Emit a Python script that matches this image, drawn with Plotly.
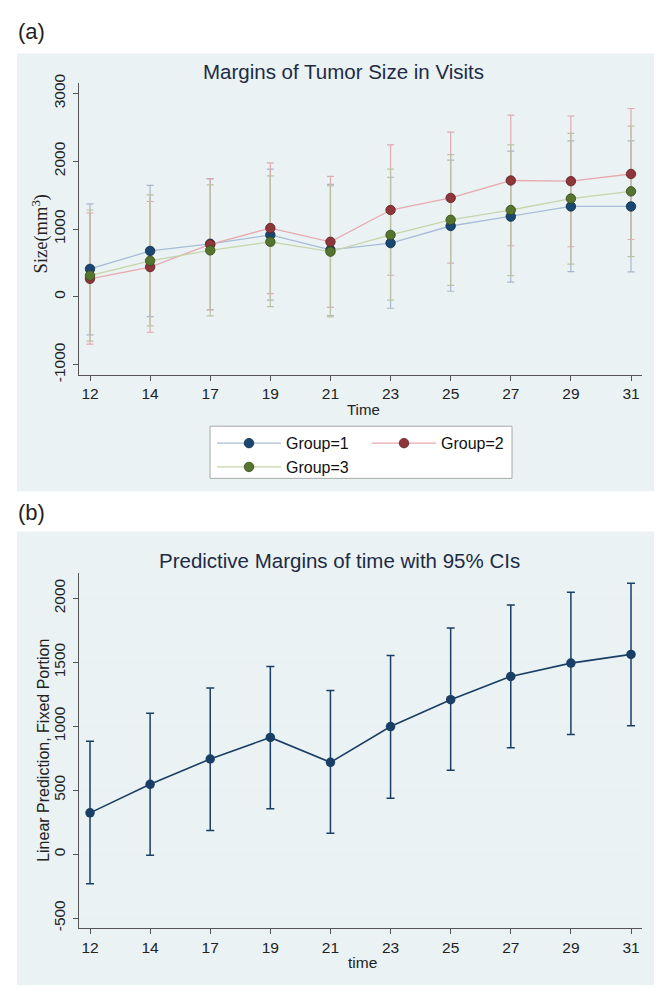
import plotly.graph_objects as go

# ---------------- data ----------------
times = ["12", "14", "17", "19", "21", "23", "25", "27", "29", "31"]

g1_mean = [412, 677, 783, 913, 692, 793, 1045, 1184, 1333, 1333]
g1_upper = [1372, 1643, 1745, 1884, 1658, 1764, 2015, 2150, 2300, 2300]
g1_lower = [-560, -290, -190, -48, -275, -168, 83, 217, 372, 368]

g2_mean = [266, 440, 774, 1014, 812, 1281, 1459, 1716, 1706, 1812]
g2_upper = [1237, 1406, 1740, 1977, 1778, 2242, 2430, 2681, 2667, 2778]
g2_lower = [-696, -522, -193, 49, -154, 319, 498, 754, 739, 846]

g3_mean = [314, 532, 686, 812, 667, 913, 1136, 1281, 1449, 1556]
g3_upper = [1281, 1503, 1652, 1783, 1638, 1884, 2097, 2242, 2411, 2517]
g3_lower = [-652, -429, -280, -145, -294, -48, 170, 314, 484, 594]

pm_mean = [323, 546, 744, 913, 718, 998, 1208, 1390, 1494, 1562]
pm_upper = [882, 1102, 1300, 1467, 1279, 1554, 1769, 1948, 2048, 2118]
pm_lower = [-231, -8, 185, 356, 164, 438, 656, 833, 936, 1005]

ya_ticks = [-1000, 0, 1000, 2000, 3000]
ya_text = ["-1000", "0", "1000", "2000", "3000"]
yb_ticks = [-500, 0, 500, 1000, 1500, 2000]
yb_text = ["-500", "0", "500", "1000", "1500", "2000"]

group_names = ["Group=1", "Group=2", "Group=3"]

# ---------------- style ----------------
OFF = 8  # page body margin
W, H = 662 - OFF, 992 - OFF
def px(x):
    return (x - OFF) / W
def py(y):
    return 1 - (y - OFF) / H

FONT = "Liberation Sans, Arial, sans-serif"
BG = "#eaf2f3"
AXC = "#555555"
TITLE_C = "#1e2b45"

marker_cols = ["#1a476f", "#90353b", "#55752f"]
marker_line = ["#0f2c47", "#5e2024", "#35491c"]
line_cols = ["#a8bcd9", "#e6aab0", "#c6d5aa"]
err_cols = ["#a6b6cc", "#dfaab0", "#bcc3a4"]

fig = go.Figure()

groups = [(g1_mean, g1_upper, g1_lower), (g2_mean, g2_upper, g2_lower), (g3_mean, g3_upper, g3_lower)]

# error bars first (under all markers)
for i, (m, up, lo) in enumerate(groups):
    fig.add_trace(go.Scatter(
        x=times, y=m, mode="markers", xaxis="x", yaxis="y",
        marker=dict(size=2, opacity=0),
        error_y=dict(type="data", symmetric=False,
                     array=[u - v for u, v in zip(up, m)],
                     arrayminus=[v - l for v, l in zip(m, lo)],
                     color=err_cols[i], thickness=1.2, width=3.5),
        showlegend=False, hoverinfo="skip"))

legend_ids = ["legend", "legend2", "legend"]
for i, (m, up, lo) in enumerate(groups):
    fig.add_trace(go.Scatter(
        x=times, y=m, mode="lines+markers", name=group_names[i],
        xaxis="x", yaxis="y", legend=legend_ids[i],
        line=dict(color=line_cols[i], width=1.3),
        marker=dict(size=9.5, color=marker_cols[i], line=dict(color=marker_line[i], width=0.8))))

# panel b
fig.add_trace(go.Scatter(
    x=times, y=pm_mean, mode="lines+markers", xaxis="x2", yaxis="y2",
    line=dict(color="#1a3f66", width=1.6),
    marker=dict(size=9.5, color="#1a3f66"),
    error_y=dict(type="data", symmetric=False,
                 array=[u - v for u, v in zip(pm_upper, pm_mean)],
                 arrayminus=[v - l for v, l in zip(pm_mean, pm_lower)],
                 color="#1a3f66", thickness=1.5, width=4),
    showlegend=False))

XDOM = [px(79.3), px(641.7)]
xaxis_common = dict(
    type="category", range=[-0.178, 9.178], domain=XDOM,
    showline=True, linecolor=AXC, linewidth=1.2,
    ticks="outside", ticklen=5, tickcolor=AXC, tickwidth=1,
    tickfont=dict(family=FONT, size=15.5, color="#222"),
    showgrid=False, zeroline=False, fixedrange=True)

yaxis_common = dict(
    tickangle=-90, showline=True, linecolor=AXC, linewidth=1.2,
    ticks="outside", ticklen=5, tickcolor=AXC, ticklabelstandoff=2,
    tickfont=dict(family=FONT, size=15.5, color="#222"), zeroline=False)

def ann(text, x, y, size=15, angle=0, family=FONT, color="#222"):
    return dict(text=text, x=px(x), y=py(y), xref="paper", yref="paper",
                xanchor="center", yanchor="middle", textangle=angle,
                showarrow=False, font=dict(family=family, size=size, color=color))

fig.update_layout(
    width=W, height=H,
    margin=dict(l=0, r=0, t=0, b=0),
    paper_bgcolor="white", plot_bgcolor="white",
    xaxis=dict(anchor="y", **xaxis_common),
    xaxis2=dict(anchor="y2", **xaxis_common),
    yaxis=dict(anchor="x", domain=[py(371.7), py(75)], range=[-1149, 3155],
               tickvals=ya_ticks, ticktext=ya_text, showgrid=False, **yaxis_common),
    yaxis2=dict(anchor="x2", domain=[py(934), py(573)], range=[-577, 2200],
                tickvals=yb_ticks, ticktext=yb_text,
                showgrid=True, gridcolor="#e6f0f2", gridwidth=1.2, **yaxis_common),
    legend=dict(x=px(212), y=py(424), xanchor="left", yanchor="top",
                itemwidth=64, font=dict(family=FONT, size=16, color="#111"),
                bgcolor="rgba(0,0,0,0)", borderwidth=0, tracegroupgap=0),
    legend2=dict(x=px(367), y=py(424), xanchor="left", yanchor="top",
                 itemwidth=64, font=dict(family=FONT, size=16, color="#111"),
                 bgcolor="rgba(0,0,0,0)", borderwidth=0),
    shapes=[
        dict(type="rect", xref="paper", yref="paper", x0=px(17), x1=px(662), y0=py(490), y1=py(45),
             fillcolor=BG, line=dict(width=0), layer="below"),
        dict(type="rect", xref="paper", yref="paper", x0=px(17), x1=px(662), y0=py(992), y1=py(531),
             fillcolor=BG, line=dict(width=0), layer="below"),
        dict(type="rect", xref="paper", yref="paper", x0=px(210), x1=px(512), y0=py(477), y1=py(424),
             fillcolor="white", line=dict(color="#a8a8a8", width=1), layer="below"),
    ],
    annotations=[
        ann("(a)", 31, 23, size=22),
        ann("(b)", 31, 512, size=22),
        ann("Margins of Tumor Size in Visits", 343, 63, size=20.5, color=TITLE_C),
        ann("Predictive Margins of time with 95% CIs", 339, 560, size=20.5, color=TITLE_C),
        ann("Size(mm<sup>3</sup>)", 40, 229, size=18.5, angle=-90,
            family="Liberation Serif, Times New Roman, serif"),
        ann("Linear Prediction, Fixed Portion", 44, 754, size=16, angle=-90),
        ann("Time", 363, 407),
        ann("time", 362, 969, size=15.5),
    ],
)

fig.write_html("out.html")
